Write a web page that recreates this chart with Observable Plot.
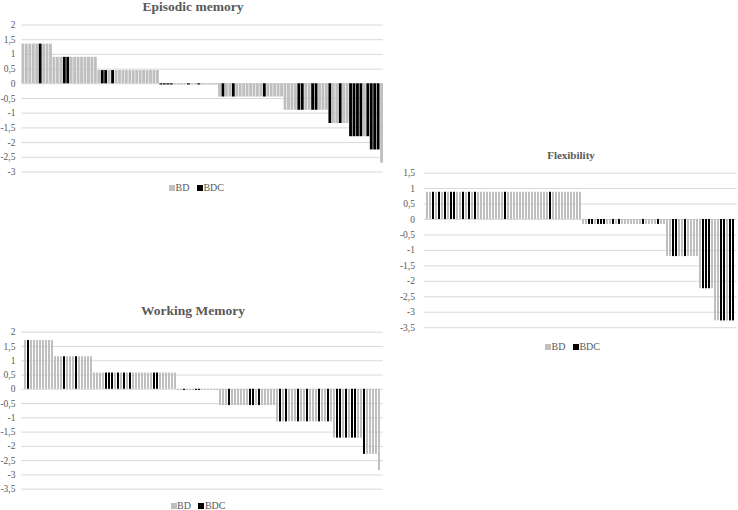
<!DOCTYPE html>
<html>
<head>
<meta charset="utf-8">
<script src="https://cdn.jsdelivr.net/npm/d3@7"></script>
<script src="https://cdn.jsdelivr.net/npm/@observablehq/plot@0.6"></script>
<style>
  html, body { margin: 0; padding: 0; background: #fff; }
  #root { position: relative; width: 738px; height: 510px; overflow: hidden;
          font-family: "Liberation Serif", "Times New Roman", serif; color: #595959; }
  .panel { position: absolute; }
  .title { position: absolute; width: 240px; text-align: center; font-weight: bold;
           line-height: 0.75; white-space: nowrap; color: #595959; }
  .legend { position: absolute; display: flex; align-items: center; font-size: 10px;
            line-height: 0.8; white-space: nowrap; color: #595959; }
  .sw { display: inline-block; width: 6px; height: 6px; }
</style>
</head>
<body>
<div id="root"></div>
<script>
// ---------------- data ----------------
const groupNames = ["BD", "BDC"];
const groupColors = ["#bfbfbf", "#000000"];

// Episodic memory (sorted z-scores, one bar per participant)
const emValues = [
  1.35,1.35,1.35,1.35,1.35, 1.35,1.35,1.35,1.35,
  0.9,0.9,0.9,0.9,0.9, 0.9,0.9,0.9,0.9,0.9, 0.9,0.9,0.9,
  0.45,0.45,0.45,0.45,0.45, 0.45,0.45,0.45,0.45,0.45, 0.45,0.45,0.45,0.45,0.45, 0.45,0.45,0.45,
  -0.04,-0.04,-0.04,-0.04,-0.04, -0.04,-0.04,-0.04,-0.04,-0.04, -0.04,-0.04,-0.04,-0.04,-0.04, -0.04,-0.04,
  -0.45,-0.45,-0.45,-0.45,-0.45, -0.45,-0.45,-0.45,-0.45,-0.45, -0.45,-0.45,-0.45,-0.45,-0.45, -0.45,-0.45,-0.45,-0.45,
  -0.9,-0.9,-0.9,-0.9,-0.9, -0.9,-0.9,-0.9,-0.9,-0.9, -0.9,-0.9,-0.9,
  -1.35,-1.35,-1.35,-1.35,-1.35, -1.35,
  -1.8,-1.8,-1.8,-1.8,-1.8, -1.8,
  -2.25,-2.25,-2.25,
  -2.7
];
const emGroups = [
  0,0,0,0,0, 1,0,0,0,
  0,0,0,1,1, 0,0,0,0,0, 0,0,0,
  0,1,1,0,1, 0,0,0,0,0, 0,0,0,0,0, 0,0,0,
  1,1,1,1,0, 0,0,0,1,0, 0,1,0,0,0, 0,0,
  0,1,0,0,1, 0,0,0,0,0, 0,0,0,1,0, 0,0,0,0,
  0,0,0,0,1, 1,0,0,1,1, 0,0,0,
  1,0,0,1,0, 0,
  1,1,1,1,0, 1,
  1,1,1,
  0
];
const emTicks = [2, 1.5, 1, 0.5, 0, -0.5, -1, -1.5, -2, -2.5, -3];

// Working memory
const wmValues = [
  1.71,1.71,1.71,1.71,1.71, 1.71,1.71,1.71,1.71,1.71,
  1.14,1.14,1.14,1.14,1.14, 1.14,1.14,1.14,1.14,1.14, 1.14,1.14,1.14,
  0.57,0.57,0.57,0.57,0.57, 0.57,0.57,0.57,0.57,0.57, 0.57,0.57,0.57,0.57,0.57, 0.57,0.57,0.57,0.57,0.57, 0.57,0.57,0.57,0.57,0.57, 0.57,0.57,0.57,
  -0.04,-0.04,-0.04,-0.04,-0.04, -0.04,-0.04,-0.04,-0.04,-0.04, -0.04,-0.04,-0.04,-0.04,
  -0.57,-0.57,-0.57,-0.57,-0.57, -0.57,-0.57,-0.57,-0.57,-0.57, -0.57,-0.57,-0.57,-0.57,-0.57, -0.57,-0.57,-0.57,-0.57,
  -1.14,-1.14,-1.14,-1.14,-1.14, -1.14,-1.14,-1.14,-1.14,-1.14, -1.14,-1.14,-1.14,-1.14,-1.14, -1.14,-1.14,-1.14,-1.14,
  -1.71,-1.71,-1.71,-1.71,-1.71, -1.71,-1.71,-1.71,-1.71,-1.71,
  -2.28,-2.28,-2.28,-2.28,-2.28,
  -2.85
];
const wmGroups = [
  0,1,0,0,0, 0,0,0,0,0,
  0,0,0,1,0, 0,0,1,0,0, 0,0,0,
  0,0,0,0,1, 1,1,0,1,0, 1,0,1,0,0, 0,0,0,0,0, 1,1,0,0,0, 0,0,0,
  0,0,1,0,0, 0,1,1,0,0, 0,0,0,0,
  0,0,0,1,0, 0,0,0,0,0, 1,1,0,1,0, 0,0,0,0,
  0,1,0,1,0, 0,0,1,0,0, 1,0,0,0,1, 0,0,1,0,
  0,1,1,0,1, 0,1,1,0,0,
  1,0,0,0,0,
  0
];
const wmTicks = [2, 1.5, 1, 0.5, 0, -0.5, -1, -1.5, -2, -2.5, -3, -3.5];

// Flexibility
const flValues = [
  0.88,0.88,0.88,0.88,0.88, 0.88,0.88,0.88,0.88,0.88, 0.88,0.88,0.88,0.88,0.88, 0.88,0.88,0.88,0.88,0.88,
  0.88,0.88,0.88,0.88,0.88, 0.88,0.88,0.88,0.88,0.88, 0.88,0.88,0.88,0.88,0.88, 0.88,0.88,0.88,0.88,0.88,
  0.88,0.88,0.88,0.88,0.88, 0.88,0.88,0.88,0.88,0.88, 0.88,0.88,
  -0.16,-0.16,-0.16,-0.16,-0.16, -0.16,-0.16,-0.16,-0.16,-0.16, -0.16,-0.16,-0.16,-0.16,-0.16, -0.16,-0.16,-0.16,-0.16,-0.16,
  -0.16,-0.16,-0.16,-0.16,-0.16, -0.16,-0.16,-0.16,
  -1.2,-1.2,-1.2,-1.2,-1.2, -1.2,-1.2,-1.2,-1.2,-1.2, -1.2,
  -2.24,-2.24,-2.24,-2.24,-2.24,
  -3.28,-3.28,-3.28,-3.28,-3.28, -3.28,-3.28
];
const flGroups = [
  0,0,1,0,1, 0,1,0,1,1, 0,0,1,0,1, 0,1,0,0,0,
  0,0,0,0,0, 0,1,0,0,0, 0,0,0,0,0, 0,0,0,0,0,
  0,1,0,0,0, 0,0,0,0,0, 0,0,
  0,0,1,1,0, 1,1,1,0,0, 1,0,1,0,0, 0,0,0,0,0,
  1,0,0,0,0, 1,0,0,
  0,0,1,1,0, 0,1,0,0,0, 0,
  0,1,1,1,0,
  0,0,1,1,0, 1,1
];
const flTicks = [1.5, 1, 0.5, 0, -0.5, -1, -1.5, -2, -2.5, -3, -3.5];

// ---------------- drawing ----------------
const root = document.getElementById("root");
const fmt = d => String(d).replace(".", ",");

function panel(cfg) {
  if (cfg.values.length !== cfg.groups.length)
    throw new Error(cfg.name + " length mismatch " + cfg.values.length + " vs " + cfg.groups.length);
  const data = cfg.values.map((v, i) => ({i, v, g: groupNames[cfg.groups[i]]}));
  const chart = Plot.plot({
    width: cfg.width,
    height: cfg.height,
    marginLeft: cfg.mLeft,
    marginRight: cfg.mRight,
    marginTop: cfg.mTop,
    marginBottom: cfg.mBottom,
    x: {type: "band", domain: data.map(d => d.i), paddingInner: cfg.pad, paddingOuter: 0, axis: null},
    y: {domain: cfg.domain},
    color: {domain: groupNames, range: groupColors},
    style: {background: "transparent", fontFamily: '"Liberation Serif", "Times New Roman", serif',
            fontSize: "9.5px", color: "#595959", overflow: "visible"},
    marks: [
      Plot.gridY(cfg.ticks, {stroke: "#d9d9d9", strokeOpacity: 1, strokeWidth: 1}),
      Plot.barY(data, {x: "i", y1: 0, y2: "v", fill: "g"}),
      Plot.axisY(cfg.ticks, {tickSize: 0, tickPadding: cfg.tickPadding, tickFormat: fmt, label: null})
    ]
  });
  const div = document.createElement("div");
  div.className = "panel";
  div.style.left = cfg.left + "px";
  div.style.top = cfg.top + "px";
  div.appendChild(chart);
  root.appendChild(div);

  // title: line-height .75 -> baseline sits .7125em below box top
  const t = document.createElement("div");
  t.className = "title";
  t.textContent = cfg.title;
  t.style.fontSize = cfg.titleSize + "px";
  t.style.left = (cfg.titleX - 120) + "px";
  t.style.top = Math.max(0, cfg.titleBaseline - 0.7125 * cfg.titleSize) + "px";
  root.appendChild(t);

  // legend: line-height .8 at 10px -> baseline 7.4px below box top
  const lg = document.createElement("div");
  lg.className = "legend";
  lg.style.left = cfg.legendX + "px";
  lg.style.top = (cfg.legendBaseline - 7.4) + "px";
  groupNames.forEach((name, k) => {
    const sw = document.createElement("span");
    sw.className = "sw";
    sw.style.background = groupColors[k];
    sw.style.marginLeft = k === 0 ? "0px" : "7.5px";
    sw.style.marginRight = "0.5px";
    const tx = document.createElement("span");
    tx.textContent = name;
    lg.appendChild(sw);
    lg.appendChild(tx);
  });
  root.appendChild(lg);
}

panel({
  name: "Episodic", title: "Episodic memory", values: emValues, groups: emGroups, ticks: emTicks,
  domain: [-3, 2], left: 0, top: 0, width: 390, height: 180,
  mLeft: 21.5, mRight: 7, mTop: 24.5, mBottom: 8.5, pad: 0.18, tickPadding: 6.5,
  titleX: 193, titleBaseline: 11.5, titleSize: 13.5, legendX: 169, legendBaseline: 191.5
});

panel({
  name: "Working", title: "Working Memory", values: wmValues, groups: wmGroups, ticks: wmTicks,
  domain: [-3.5, 2], left: 0, top: 320, width: 390, height: 180,
  mLeft: 21.3, mRight: 7, mTop: 11.7, mBottom: 11.3, pad: 0.35, tickPadding: 6.3,
  titleX: 193, titleBaseline: 316, titleSize: 13.5, legendX: 170.5, legendBaseline: 509
});

panel({
  name: "Flexibility", title: "Flexibility", values: flValues, groups: flGroups, ticks: flTicks,
  domain: [-3.5, 1.5], left: 390, top: 160, width: 348, height: 180,
  mLeft: 34, mRight: 1.3, mTop: 12.6, mBottom: 12.8, pad: 0.3, tickPadding: 9.5,
  titleX: 571, titleBaseline: 158.5, titleSize: 11, legendX: 545, legendBaseline: 350.2
});
</script>
</body>
</html>
